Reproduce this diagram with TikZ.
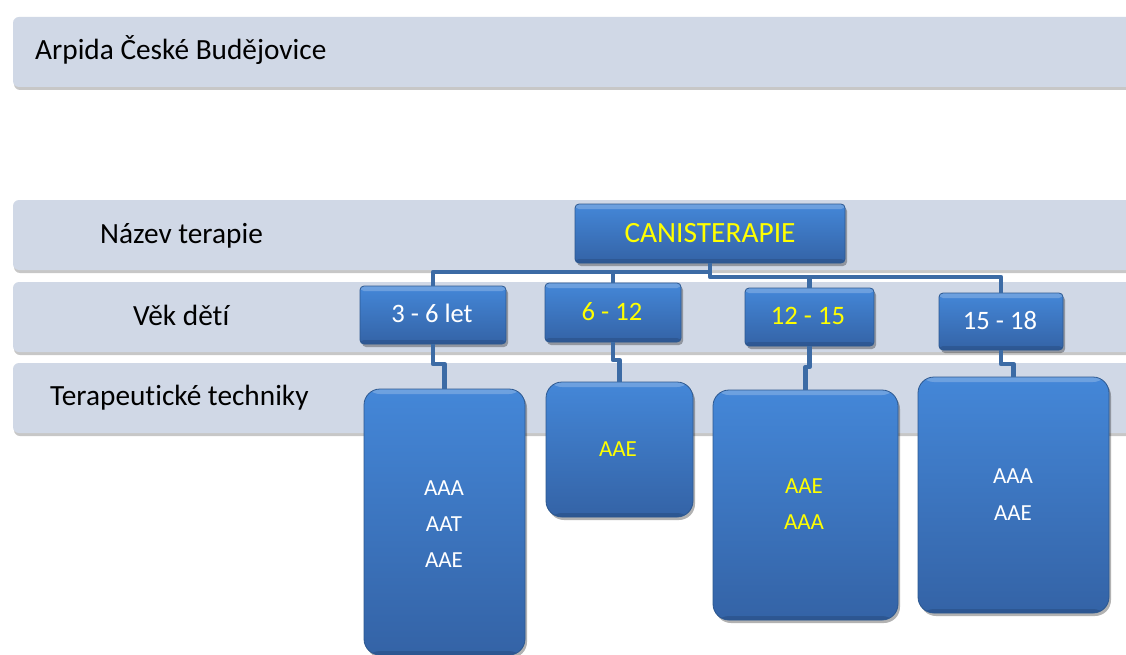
\documentclass[tikz,border=0pt]{standalone}
\usepackage{fontspec}
\setmainfont{Carlito}[Ligatures=NoCommon]
\usetikzlibrary{shadows,calc}

\definecolor{bandfill}{HTML}{D0D8E6}
\definecolor{boxtop}{HTML}{4487D8}
\definecolor{boxbot}{HTML}{3463A6}
\definecolor{boxedge}{HTML}{2C5890}
\definecolor{connector}{HTML}{3C6BA5}
\definecolor{labelyellow}{HTML}{FFFF00}

\tikzset{
  band/.style={rounded corners=6pt, fill=bandfill, inner sep=0pt, outer sep=0pt,
    anchor=north west, minimum height=70pt,
    drop shadow={shadow xshift=1pt, shadow yshift=-3pt, opacity=.22, fill=black}},
  bandtext/.style={anchor=base west, inner sep=0pt, font=\fontsize{29.3}{32}\selectfont},
  bevel/.style={
    path picture={
      \fill[white, opacity=.22] (path picture bounding box.north west) rectangle
        ([yshift=-5pt]path picture bounding box.north east);
      \fill[black, opacity=.12] ([yshift=4pt]path picture bounding box.south west) rectangle
        (path picture bounding box.south east);
    }},
  bluebox/.style={draw=boxedge, line width=0.8pt, top color=boxtop, bottom color=boxbot,
    inner sep=0pt, outer sep=0pt, anchor=north west, bevel,
    drop shadow={shadow xshift=2pt, shadow yshift=-3pt, opacity=.3, fill=black}},
  agebox/.style={bluebox, rounded corners=4pt},
  techbox/.style={bluebox, rounded corners=16pt},
  agetext/.style={anchor=base, inner sep=0pt, font=\fontsize{26.6}{30}\selectfont},
  techtext/.style={anchor=base, inner sep=0pt, font=\fontsize{23}{26}\selectfont},
  conn/.style={draw=connector, line width=4.8pt, line join=round},
}

\begin{document}
\begin{tikzpicture}[x=1pt, y=-1pt]
  \useasboundingbox (0,0) rectangle (1126,655);
  \fill[white] (0,0) rectangle (1126,655);
  \clip (0,0) rectangle (1126,655);

  % grey header bands
  \node[band, minimum width=1130pt] (hdr)  at (13,17)  {};
  \node[band, minimum width=1130pt] (rowN) at (13,200) {};
  \node[band, minimum width=1130pt] (rowV) at (13,282) {};
  \node[band, minimum width=1130pt] (rowT) at (13,363) {};

  \node[bandtext] (hdrtext)  at (35,60)  {Arpida České Budějovice};
  \node[bandtext] (rowNtext) at (100,243) {Název terapie};
  \node[bandtext] (rowVtext) at (133,325) {Věk dětí};
  \node[bandtext] (rowTtext) at (50,405)  {Terapeutické techniky};

  % bus coordinates under the root box
  \coordinate (busL) at (710,272);
  \coordinate (busR) at (710,277);

  % root and age boxes
  \node[agebox, minimum width=270pt, minimum height=59pt] (root) at (575,204) {};
  \node[agebox, minimum width=146pt, minimum height=58pt] (a1) at (360,286) {};
  \node[agebox, minimum width=136pt, minimum height=59pt] (a2) at (545,283) {};
  \node[agebox, minimum width=129pt, minimum height=58pt] (a3) at (745,288) {};
  \node[agebox, minimum width=124pt, minimum height=57pt] (a4) at (939,293) {};

  % technique boxes
  \node[techbox, minimum width=161pt, minimum height=266pt] (t1) at (364,389) {};
  \node[techbox, minimum width=147pt, minimum height=135pt] (t2) at (546,382) {};
  \node[techbox, minimum width=185pt, minimum height=230pt] (t3) at (713,390) {};
  \node[techbox, minimum width=191pt, minimum height=236pt] (t4) at (918,377) {};

  % connectors: root to age boxes
  \draw[conn] (root.south) -- (busR) -| (a4.north);
  \draw[conn] (a1.north) |- (busL);
  \draw[conn] (a2.north) -- (a2.north |- busL);
  \draw[conn] (a3.north) -- (a3.north |- busR);
  % connectors: age boxes to technique boxes
  \draw[conn] (a1.south) -- ++(0,20) -| (t1.north);
  \draw[conn] (a2.south) -- ++(0,18) -| (t2.north);
  \draw[conn] (a3.south) -- ++(0,21) -| (t3.north);
  \draw[conn] (a4.south) -- ++(0,14) -| (t4.north);

  % labels
  \node[agetext, font=\fontsize{29.4}{32}\selectfont, text=labelyellow] (rootlabel) at (710,242) {CANISTERAPIE};
  \node[agetext, text=white]       (a1label) at (432,322) {3 - 6 let};
  \node[agetext, text=labelyellow] (a2label) at (612,320) {6 - 12};
  \node[agetext, text=labelyellow] (a3label) at (808,324) {12 - 15};
  \node[agetext, text=white]       (a4label) at (1000,329) {15 - 18};

  \node[techtext, text=white] (t1a) at (444,495) {AAA};
  \node[techtext, text=white] (t1b) at (444,531) {AAT};
  \node[techtext, text=white] (t1c) at (444,567) {AAE};
  \node[techtext, text=labelyellow] (t2a) at (618,456) {AAE};
  \node[techtext, text=labelyellow] (t3a) at (804,493) {AAE};
  \node[techtext, text=labelyellow] (t3b) at (804,529) {AAA};
  \node[techtext, text=white] (t4a) at (1013,483) {AAA};
  \node[techtext, text=white] (t4b) at (1013,520) {AAE};
\end{tikzpicture}
\end{document}
